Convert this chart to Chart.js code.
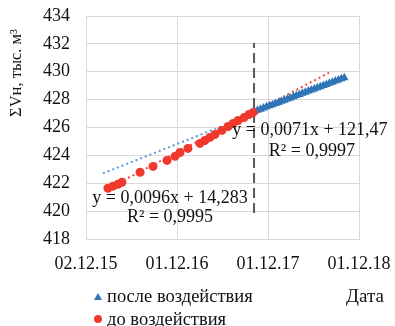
<!DOCTYPE html>
<html>
<head>
<meta charset="utf-8">
<script src="https://cdn.jsdelivr.net/npm/chart.js@4.4.1/dist/chart.umd.min.js"></script>
<style>
  html, body { margin: 0; padding: 0; background: #fff; }
  #wrap { width: 395px; height: 326px; position: relative; }
</style>
</head>
<body>
<div id="wrap"><canvas id="graphVolume"></canvas></div>
<script>
// x values are day numbers (Excel serial dates)
const tickDates = [42340, 42705, 43070, 43435]
const tickLabels = ['02.12.15', '01.12.16', '01.12.17', '01.12.18']

const beforeDates = [42428, 42448, 42468, 42484, 42557, 42609, 42665, 42697, 42717, 42749, 42797, 42817, 42837, 42857, 42885, 42910, 42930, 42950, 42974, 42994, 43010]
const beforeValues = [421.64, 421.79, 421.93, 422.07, 422.79, 423.21, 423.64, 423.93, 424.21, 424.5, 424.86, 425.07, 425.29, 425.5, 425.79, 426.07, 426.29, 426.5, 426.71, 426.93, 427.07]

const afterDates = [43016, 43028, 43040, 43052, 43064, 43076, 43088, 43100, 43112, 43124, 43136, 43148, 43160, 43172, 43184, 43196, 43208, 43220, 43232, 43244, 43256, 43268, 43280, 43292, 43304, 43316, 43328, 43340, 43352, 43364, 43376]
const afterValues = [427.15, 427.23, 427.31, 427.4, 427.48, 427.56, 427.64, 427.72, 427.8, 427.88, 427.96, 428.04, 428.12, 428.2, 428.29, 428.37, 428.45, 428.53, 428.61, 428.69, 428.77, 428.85, 428.93, 429.01, 429.09, 429.17, 429.25, 429.33, 429.41, 429.49, 429.57]

const beforeTrendDates = [42420, 43315]
const beforeTrendValues = [421.55, 429.93]
const afterTrendDates = [42408, 43380]
const afterTrendValues = [422.71, 429.6]

const dividerDates = [43014, 43014]
const dividerValues = [419.86, 432.07]

const labelAfter = 'после воздействия'
const labelBefore = 'до воздействия'
const axisTitleX = 'Дата'
const axisTitleY = 'ΣVн, тыс. м³'

function toPoints(xs, ys) {
  return xs.map((x, i) => ({ x: x, y: ys[i] }))
}

const serif = '"Liberation Serif", "DejaVu Serif", serif'
const red = '#f0382d'
const blue = '#2e74b6'

// equations and custom legend drawn on the canvas
const extrasPlugin = {
  id: 'extras',
  afterDraw(chart) {
    const ctx = chart.ctx
    const xs = chart.scales.x
    const ys = chart.scales.y
    ctx.save()
    ctx.fillStyle = '#111'
    ctx.textAlign = 'center'
    ctx.textBaseline = 'middle'
    ctx.font = '18px ' + serif
    const notes = [
      ['y = 0,0096x + 14,283', 42677, 420.93],
      ['R² = 0,9995', 42677, 419.57],
      ['y = 0,0071x + 121,47', 43238, 425.79],
      ['R² = 0,9997', 43246, 424.29]
    ]
    notes.forEach(n => {
      ctx.fillText(n[0], xs.getPixelForValue(n[1]), ys.getPixelForValue(n[2]))
    })

    // y axis title
    ctx.save()
    ctx.font = '16.5px ' + serif
    ctx.translate(17, 73)
    ctx.rotate(-Math.PI / 2)
    ctx.fillText(axisTitleY, 0, 0)
    ctx.restore()

    // x axis title
    ctx.font = '19px ' + serif
    ctx.fillText(axisTitleX, 365, 297)

    // legend
    ctx.textAlign = 'left'
    ctx.font = '18.5px ' + serif
    ctx.fillStyle = blue
    ctx.beginPath()
    ctx.moveTo(98, 293)
    ctx.lineTo(102, 300)
    ctx.lineTo(94, 300)
    ctx.closePath()
    ctx.fill()
    ctx.fillStyle = red
    ctx.beginPath()
    ctx.arc(98, 319, 4, 0, Math.PI * 2)
    ctx.fill()
    ctx.fillStyle = '#111'
    ctx.fillText(labelAfter, 107, 297)
    ctx.fillText(labelBefore, 107, 320)
    ctx.restore()
  }
}

const data = {
  datasets: [
    {
      label: labelBefore,
      data: toPoints(beforeDates, beforeValues),
      showLine: false,
      pointStyle: 'circle',
      pointRadius: 4.5,
      backgroundColor: red,
      borderColor: red,
      borderWidth: 0
    },
    {
      label: labelAfter,
      data: toPoints(afterDates, afterValues),
      showLine: false,
      pointStyle: 'triangle',
      pointRadius: 5,
      backgroundColor: blue,
      borderColor: blue,
      borderWidth: 0
    },
    {
      label: 'trend before',
      data: toPoints(beforeTrendDates, beforeTrendValues),
      showLine: true,
      pointRadius: 0,
      borderColor: '#f5443a',
      borderWidth: 2,
      borderDash: [2, 3]
    },
    {
      label: 'trend after',
      data: toPoints(afterTrendDates, afterTrendValues),
      showLine: true,
      pointRadius: 0,
      borderColor: '#5b9bd5',
      borderWidth: 2,
      borderDash: [2, 3]
    },
    {
      label: 'divider',
      data: toPoints(dividerDates, dividerValues),
      showLine: true,
      pointRadius: 0,
      borderColor: '#595959',
      borderWidth: 2,
      borderDash: [10, 5]
    }
  ]
}

const config = {
  type: 'scatter',
  data: data,
  options: {
    responsive: true,
    maintainAspectRatio: false,
    animation: false,
    layout: {
      padding: { left: 0, top: 16, right: 36, bottom: 57 }
    },
    plugins: {
      legend: { display: false },
      tooltip: { enabled: false }
    },
    scales: {
      x: {
        type: 'linear',
        min: tickDates[0],
        max: tickDates[tickDates.length - 1],
        afterBuildTicks: (scale) => {
          scale.ticks = tickDates.map(v => ({ value: v }))
        },
        afterFit: (scale) => {
          scale.height = 30
          scale.paddingLeft = 0
          scale.paddingRight = 0
        },
        ticks: {
          autoSkip: false,
          maxRotation: 0,
          padding: 14,
          color: '#111',
          font: { family: serif, size: 18 },
          callback: (value) => tickLabels[tickDates.indexOf(value)]
        },
        grid: { color: '#d9d9d9', drawTicks: false },
        border: { color: '#d9d9d9' }
      },
      y: {
        min: 418,
        max: 434,
        afterFit: (scale) => {
          scale.width = 86
          scale.paddingTop = 0
          scale.paddingBottom = 0
        },
        ticks: {
          stepSize: 2,
          padding: 16,
          color: '#111',
          font: { family: serif, size: 18 }
        },
        grid: { color: '#d9d9d9', drawTicks: false },
        border: { color: '#d9d9d9' }
      }
    }
  },
  plugins: [extrasPlugin]
}

const volumeChart = new Chart(document.getElementById('graphVolume'), config)
</script>
</body>
</html>
